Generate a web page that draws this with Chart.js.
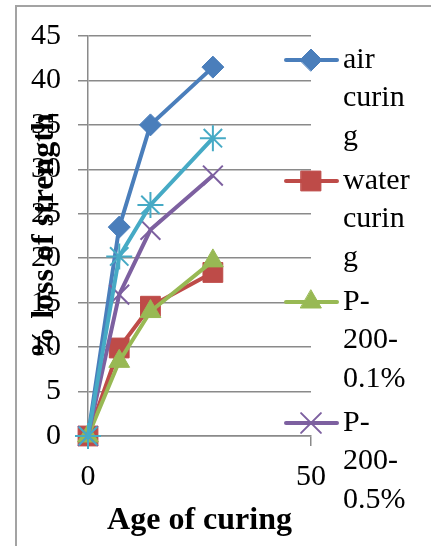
<!DOCTYPE html>
<html>
<head>
<meta charset="utf-8">
<script src="https://cdn.jsdelivr.net/npm/chart.js@4/dist/chart.umd.min.js"></script>
<style>
  html, body { margin: 0; padding: 0; background: #fff; overflow: hidden; }
  #wrap { position: relative; width: 431px; height: 546px; overflow: hidden; }
  #frame { position: absolute; left: 15px; top: 5px; width: 440px; height: 560px; border: 2px solid #a3a3a3; box-sizing: border-box; }
  #chart { position: absolute; left: 0; top: 0; }
</style>
</head>
<body>
<div id="wrap">
  <div id="frame"></div>
  <canvas id="chart" width="431" height="546"></canvas>
</div>
<script>
  // curing age (days) and % loss of strength per mix
  const ageDays = [0, 7, 14, 28];
  const airCuring = [0, 23.5, 35, 41.5];
  const waterCuring = [0, 9.9, 14.6, 18.4];
  const p200low = [0, 8.4, 14, 19.7];
  const p200high = [0, 15.9, 23.2, 29.3];
  const series5 = [0, 20.2, 26, 33.5];

  const seriesNames = ["air curing", "water curing", "P-200-0.1%", "P-200-0.5%", "Series5"];
  // legend text as wrapped in the original (5th entry is cut off there)
  const legendLines = [
    ["air", "curin", "g"],
    ["water", "curin", "g"],
    ["P-", "200-", "0.1%"],
    ["P-", "200-", "0.5%"],
    null,
  ];

  const yTicks = { min: 0, max: 45, step: 5 };
  const xTicks = { min: 0, max: 50, step: 50 };

  const serif = '"Liberation Serif", "Times New Roman", serif';
  const gridGray = "#8a8a8a";

  function points(values) {
    return values.map((v, i) => ({ x: ageDays[i], y: v }));
  }

  function series(i, values, color, style, radius, bw) {
    return {
      label: seriesNames[i],
      data: points(values),
      borderColor: color,
      backgroundColor: color,
      borderWidth: 4,
      pointStyle: style,
      pointRadius: radius,
      pointBackgroundColor: color,
      pointBorderColor: color,
      pointBorderWidth: bw,
      tension: 0,
      clip: false,
      order: 5 - i, // later series on top, like Excel
    };
  }

  const legendBox = {
    id: "legendBox",
    afterDraw(chart) {
      const ctx = chart.ctx;
      const area = chart.chartArea;
      let y = area.top + 24;
      chart.data.datasets.forEach((ds, i) => {
        const lines = legendLines[i];
        if (!lines) return;
        ctx.save();
        ctx.strokeStyle = ds.borderColor;
        ctx.lineWidth = ds.borderWidth;
        ctx.lineCap = "round";
        ctx.beginPath();
        ctx.moveTo(area.right - 25, y);
        ctx.lineTo(area.right + 26, y);
        ctx.stroke();
        ctx.fillStyle = ds.pointBackgroundColor;
        ctx.strokeStyle = ds.pointBorderColor;
        ctx.lineWidth = ds.pointBorderWidth;
        Chart.helpers.drawPoint(ctx, {
          pointStyle: ds.pointStyle,
          radius: ds.pointRadius,
          borderWidth: ds.pointBorderWidth,
          rotation: 0,
        }, area.right, y);
        ctx.fillStyle = "#000";
        ctx.font = "30px " + serif;
        ctx.textBaseline = "middle";
        ctx.textAlign = "left";
        lines.forEach((t, k) => ctx.fillText(t, area.right + 32, y + k * 38.5));
        ctx.restore();
        y += 121;
      });
    },
  };

  new Chart(document.getElementById("chart"), {
    type: "line",
    data: {
      datasets: [
        series(0, airCuring, "#4a7ebb", "rectRot", 11, 1),
        series(1, waterCuring, "#be4b48", "rect", 14, 1),
        series(2, p200low, "#98b954", "triangle", 12, 1),
        series(3, p200high, "#7d60a0", "crossRot", 14, 2),
        series(4, series5, "#46aac5", "star", 13, 2),
      ],
    },
    options: {
      responsive: false,
      animation: false,
      devicePixelRatio: 1,
      layout: { padding: { top: 36, right: 120, bottom: 0, left: 0 } },
      plugins: {
        legend: { display: false },
        tooltip: { enabled: false },
      },
      scales: {
        x: {
          type: "linear",
          min: xTicks.min,
          max: xTicks.max,
          afterFit: (s) => { s.height = 110; },
          ticks: {
            stepSize: xTicks.step,
            color: "#000",
            padding: 13,
            maxRotation: 0,
            font: { family: serif, size: 30 },
          },
          grid: {
            drawOnChartArea: false,
            drawTicks: true,
            tickLength: 10,
            color: gridGray,
            lineWidth: 1.5,
          },
          border: { color: gridGray, width: 1.5 },
          title: {
            display: true,
            text: "Age of curing",
            color: "#000",
            font: { family: serif, size: 32, weight: "bold" },
            padding: { top: 0, bottom: 6 },
          },
        },
        y: {
          min: yTicks.min,
          max: yTicks.max,
          afterFit: (s) => { s.width = 88; },
          ticks: {
            stepSize: yTicks.step,
            color: "#000",
            padding: 17,
            font: { family: serif, size: 30 },
          },
          grid: {
            drawTicks: true,
            tickLength: 10,
            color: gridGray,
            lineWidth: 1.5,
          },
          border: { color: gridGray, width: 1.5 },
          title: {
            display: true,
            text: "% loss of strength",
            color: "#000",
            font: { family: serif, size: 32, weight: "bold" },
            padding: { top: 26, bottom: 0 },
          },
        },
      },
    },
    plugins: [legendBox],
  });
</script>
</body>
</html>
